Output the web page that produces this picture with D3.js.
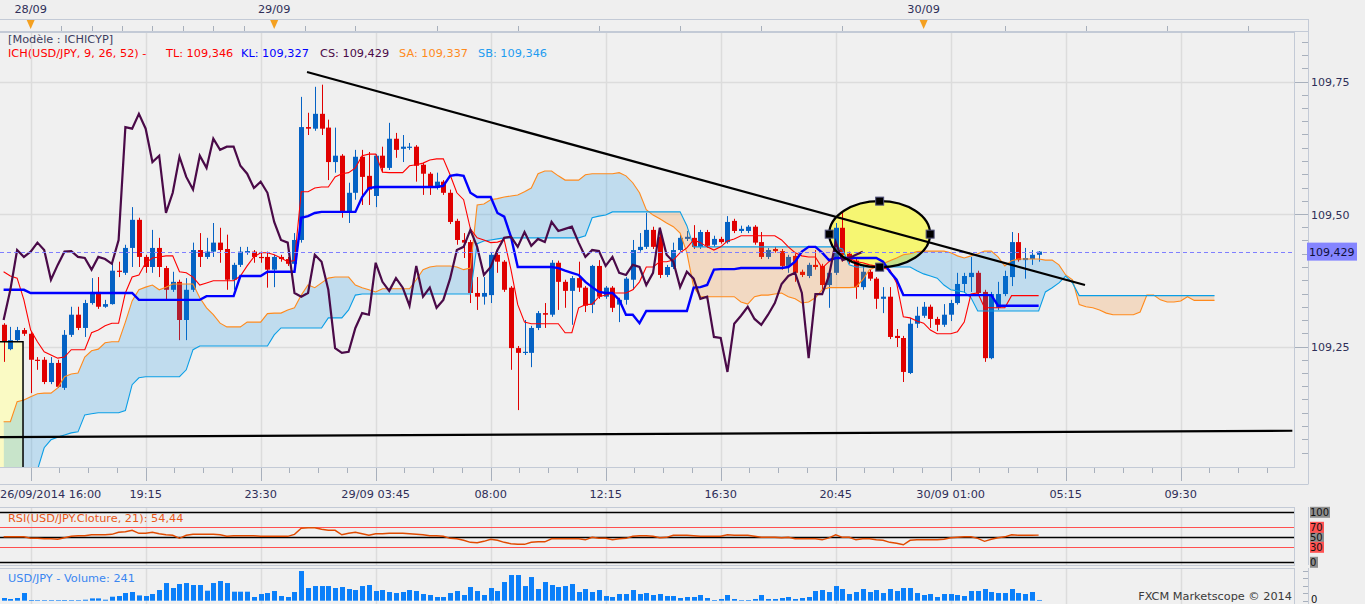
<!DOCTYPE html>
<html><head><meta charset="utf-8">
<script src="https://cdn.jsdelivr.net/npm/d3@7/dist/d3.min.js"></script>
<style>
body{margin:0;background:#efefef;overflow:hidden}
svg{display:block}
text{font-family:"DejaVu Sans",sans-serif;font-size:11.3px}
</style></head><body>
<svg id="c" width="1365" height="604"></svg>
<script>
// ---------- DATA (USD/JPY 15 min) ----------
const opens=[109.291,109.245,109.262,109.281,109.274,109.225,109.225,109.183,109.219,109.172,
109.272,109.310,109.285,109.332,109.353,109.325,109.330,109.393,109.389,109.436,
109.489,109.419,109.400,109.436,109.398,109.357,109.372,109.300,109.357,109.432,
109.419,109.429,109.446,109.434,109.376,109.404,109.427,109.429,109.419,109.419,
109.395,109.419,109.415,109.406,109.451,109.664,109.661,109.689,109.663,109.598,
109.610,109.502,109.540,109.608,109.572,109.534,109.610,109.587,109.642,109.623,
109.625,109.627,109.593,109.576,109.549,109.561,109.540,109.487,109.451,109.447,
109.351,109.344,109.347,109.423,109.410,109.361,109.247,109.238,109.238,109.285,
109.313,109.310,109.408,109.372,109.355,109.379,109.361,109.329,109.402,109.344,
109.361,109.329,109.338,109.376,109.432,109.438,109.470,109.457,109.385,109.400,
109.432,109.453,109.455,109.438,109.466,109.442,109.453,109.447,109.487,109.468,
109.468,109.476,109.447,109.419,109.434,109.430,109.402,109.421,109.391,109.383,
109.404,109.402,109.366,109.389,109.474,109.425,109.412,109.362,109.391,109.378,
109.340,109.344,109.270,109.266,109.200,109.293,109.308,109.325,109.302,109.291,
109.310,109.332,109.368,109.381,109.389,109.353,109.228,109.323,109.349,109.381,
109.447,109.413,109.415,109.423];
const highs=[109.294,109.287,109.287,109.285,109.277,109.230,109.230,109.230,109.225,109.281,
109.325,109.325,109.338,109.379,109.381,109.338,109.410,109.410,109.442,109.513,
109.493,109.423,109.470,109.455,109.402,109.391,109.376,109.379,109.446,109.464,
109.455,109.483,109.474,109.461,109.408,109.438,109.438,109.432,109.429,109.429,
109.423,109.423,109.419,109.464,109.721,109.691,109.740,109.744,109.678,109.663,
109.613,109.559,109.621,109.621,109.617,109.613,109.627,109.672,109.653,109.649,
109.634,109.630,109.596,109.579,109.578,109.564,109.546,109.491,109.464,109.451,
109.381,109.381,109.427,109.427,109.413,109.364,109.251,109.300,109.289,109.317,
109.332,109.413,109.412,109.376,109.383,109.410,109.364,109.404,109.413,109.364,
109.364,109.342,109.381,109.451,109.464,109.502,109.476,109.474,109.404,109.446,
109.461,109.468,109.479,109.470,109.470,109.459,109.457,109.496,109.491,109.478,
109.479,109.479,109.466,109.436,109.438,109.434,109.423,109.425,109.395,109.408,
109.432,109.406,109.393,109.483,109.502,109.429,109.415,109.402,109.395,109.381,
109.362,109.362,109.283,109.270,109.304,109.325,109.334,109.329,109.306,109.330,
109.338,109.389,109.389,109.419,109.393,109.357,109.353,109.372,109.393,109.466,
109.464,109.436,109.432,109.430];
const lows=[109.221,109.243,109.259,109.270,109.162,109.206,109.179,109.179,109.172,109.168,
109.268,109.281,109.268,109.329,109.321,109.323,109.329,109.381,109.385,109.400,
109.400,109.389,109.389,109.381,109.338,109.353,109.262,109.262,109.353,109.400,
109.415,109.419,109.408,109.357,109.357,109.400,109.423,109.408,109.408,109.361,
109.362,109.410,109.402,109.402,109.446,109.649,109.657,109.649,109.564,109.578,
109.493,109.483,109.527,109.517,109.517,109.513,109.579,109.583,109.606,109.598,
109.621,109.561,109.536,109.536,109.546,109.536,109.481,109.442,109.417,109.332,
109.319,109.329,109.332,109.389,109.353,109.206,109.130,109.234,109.211,109.281,
109.285,109.306,109.319,109.323,109.291,109.353,109.315,109.313,109.340,109.340,
109.315,109.296,109.329,109.357,109.429,109.434,109.434,109.379,109.381,109.396,
109.429,109.449,109.434,109.434,109.436,109.438,109.444,109.444,109.464,109.464,
109.464,109.442,109.415,109.415,109.427,109.395,109.389,109.372,109.381,109.379,
109.395,109.357,109.323,109.385,109.410,109.406,109.340,109.357,109.374,109.321,
109.313,109.264,109.249,109.183,109.198,109.285,109.304,109.285,109.279,109.287,
109.298,109.329,109.351,109.353,109.347,109.221,109.226,109.319,109.345,109.364,
109.410,109.378,109.404,109.410];
const closes=[109.259,109.262,109.281,109.274,109.225,109.223,109.183,109.219,109.174,109.272,
109.310,109.285,109.332,109.353,109.325,109.330,109.393,109.391,109.436,109.489,
109.419,109.400,109.436,109.400,109.357,109.372,109.300,109.357,109.432,109.419,
109.429,109.446,109.432,109.376,109.404,109.429,109.430,109.419,109.417,109.395,
109.419,109.415,109.406,109.451,109.664,109.661,109.689,109.661,109.598,109.610,
109.502,109.540,109.608,109.570,109.546,109.610,109.587,109.642,109.621,109.627,
109.627,109.591,109.576,109.549,109.561,109.540,109.485,109.451,109.446,109.351,
109.344,109.351,109.423,109.410,109.357,109.247,109.238,109.240,109.285,109.313,
109.310,109.408,109.372,109.355,109.379,109.361,109.327,109.402,109.344,109.361,
109.323,109.338,109.378,109.432,109.438,109.470,109.438,109.385,109.400,109.432,
109.455,109.457,109.438,109.466,109.440,109.453,109.447,109.485,109.468,109.472,
109.476,109.446,109.419,109.432,109.430,109.402,109.419,109.389,109.385,109.404,
109.400,109.366,109.389,109.474,109.423,109.410,109.362,109.391,109.378,109.340,
109.344,109.268,109.266,109.202,109.293,109.308,109.325,109.302,109.291,109.310,
109.332,109.368,109.383,109.389,109.351,109.228,109.349,109.349,109.383,109.447,
109.413,109.417,109.423,109.429];
const tenkan=[109.391,109.383,109.379,109.338,109.281,109.259,109.240,109.234,109.228,109.230,
109.244,109.244,109.244,109.276,109.281,109.289,109.294,109.294,109.351,109.381,
109.385,109.408,109.417,109.419,109.421,109.421,109.391,109.389,109.381,109.366,
109.370,109.374,109.374,109.374,109.374,109.383,109.402,109.419,109.427,109.427,
109.423,109.417,109.410,109.412,109.542,109.542,109.549,109.551,109.551,109.570,
109.576,109.578,109.587,109.610,109.613,109.613,109.579,109.578,109.578,109.578,
109.591,109.593,109.596,109.602,109.604,109.604,109.574,109.540,109.527,109.472,
109.455,109.451,109.446,109.447,109.451,109.395,109.329,109.296,109.293,109.293,
109.293,109.293,109.293,109.276,109.276,109.323,109.329,109.330,109.344,109.347,
109.351,109.351,109.351,109.357,109.372,109.400,109.400,109.410,109.410,109.413,
109.427,109.436,109.451,109.446,109.438,109.432,109.438,109.449,109.453,109.459,
109.459,109.459,109.459,109.459,109.459,109.451,109.438,109.427,109.421,109.419,
109.419,109.398,109.410,109.417,109.417,109.417,109.410,109.408,109.404,109.402,
109.398,109.395,109.370,109.306,109.304,109.298,109.294,109.281,109.274,109.274,
109.274,109.278,109.296,109.349,109.351,109.323,109.323,109.323,109.323,109.346,
109.346,109.346,109.346,109.346];
const kijun=[109.357,109.357,109.357,109.357,109.351,109.351,109.351,109.351,109.351,109.351,
109.351,109.351,109.351,109.351,109.351,109.351,109.351,109.351,109.351,109.351,
109.338,109.338,109.338,109.338,109.338,109.338,109.338,109.338,109.338,109.338,
109.345,109.345,109.345,109.345,109.345,109.383,109.383,109.383,109.383,109.391,
109.391,109.391,109.391,109.391,109.493,109.496,109.502,109.504,109.504,109.504,
109.504,109.504,109.504,109.532,109.549,109.551,109.551,109.551,109.551,109.551,
109.551,109.551,109.551,109.551,109.551,109.553,109.572,109.574,109.572,109.540,
109.532,109.532,109.532,109.502,109.495,109.457,109.400,109.400,109.400,109.400,
109.400,109.400,109.398,109.393,109.389,109.385,109.372,109.362,109.353,109.351,
109.351,109.338,109.310,109.310,109.294,109.317,109.317,109.317,109.317,109.317,
109.317,109.317,109.361,109.362,109.366,109.395,109.396,109.396,109.396,109.398,
109.398,109.398,109.398,109.398,109.398,109.398,109.400,109.410,109.429,109.438,
109.438,109.427,109.413,109.417,109.417,109.417,109.417,109.417,109.417,109.417,
109.410,109.391,109.376,109.347,109.347,109.347,109.347,109.347,109.347,109.347,
109.347,109.347,109.347,109.347,109.347,109.347,109.347,109.327,109.327,109.327,
109.327,109.327,109.327,109.327];
const senkouA=[109.108,109.108,109.146,109.149,109.155,109.161,109.162,109.162,109.172,109.193,
109.198,109.200,109.230,109.242,109.245,109.257,109.259,109.259,109.296,109.336,
109.357,109.362,109.366,109.357,109.362,109.368,109.368,109.368,109.368,109.342,
109.323,109.310,109.294,109.287,109.287,109.287,109.296,109.296,109.296,109.312,
109.313,109.313,109.319,109.323,109.347,109.366,109.361,109.370,109.379,109.381,
109.381,109.381,109.366,109.361,109.357,109.353,109.359,109.359,109.359,109.359,
109.359,109.376,109.395,109.400,109.402,109.402,109.402,109.400,109.395,109.398,
109.517,109.519,109.527,109.529,109.532,109.534,109.536,109.542,109.549,109.576,
109.581,109.581,109.572,109.564,109.564,109.564,109.574,109.576,109.576,109.576,
109.576,109.578,109.572,109.559,109.540,109.508,109.498,109.491,109.483,109.476,
109.464,109.427,109.362,109.344,109.344,109.344,109.344,109.344,109.344,109.334,
109.330,109.344,109.347,109.347,109.349,109.351,109.344,109.340,109.332,109.334,
109.342,109.357,109.361,109.361,109.361,109.361,109.362,109.376,109.395,109.400,
109.406,109.412,109.417,109.423,109.425,109.429,109.430,109.430,109.430,109.430,
109.427,109.421,109.417,109.421,109.425,109.430,109.430,109.419,109.402,109.412,
109.415,109.415,109.415,109.415,109.413,109.413,109.404,109.385,109.376,109.329,
109.325,109.323,109.319,109.313,109.310,109.310,109.310,109.310,109.315,109.347,
109.347,109.338,109.334,109.334,109.336,109.344,109.337,109.337,109.337,109.337];
const senkouB=[108.904,108.923,108.942,108.961,108.979,109.017,109.059,109.074,109.079,109.083,
109.087,109.089,109.121,109.123,109.125,109.125,109.125,109.125,109.129,109.178,
109.191,109.193,109.193,109.193,109.193,109.193,109.193,109.206,109.244,109.251,
109.251,109.251,109.251,109.251,109.251,109.251,109.251,109.251,109.251,109.251,
109.272,109.285,109.285,109.285,109.285,109.285,109.285,109.285,109.304,109.304,
109.304,109.319,109.347,109.349,109.349,109.349,109.349,109.349,109.349,109.349,
109.349,109.349,109.349,109.349,109.349,109.349,109.349,109.349,109.349,109.349,
109.444,109.449,109.451,109.453,109.455,109.455,109.455,109.455,109.455,109.455,
109.455,109.455,109.455,109.455,109.455,109.455,109.459,109.493,109.496,109.498,
109.504,109.504,109.504,109.504,109.504,109.504,109.504,109.504,109.504,109.504,
109.504,109.478,109.438,109.438,109.438,109.438,109.438,109.438,109.438,109.438,
109.438,109.438,109.438,109.438,109.438,109.438,109.438,109.438,109.438,109.438,
109.438,109.438,109.438,109.438,109.434,109.404,109.400,109.400,109.400,109.400,
109.400,109.400,109.400,109.400,109.400,109.393,109.387,109.383,109.379,109.366,
109.357,109.355,109.353,109.342,109.317,109.317,109.317,109.317,109.317,109.317,
109.317,109.317,109.317,109.317,109.353,109.361,109.370,109.383,109.370,109.346,
109.346,109.346,109.346,109.346,109.346,109.346,109.346,109.346,109.346,109.346,
109.346,109.346,109.346,109.346,109.346,109.346,109.346,109.346,109.346,109.346];
const rsi=[51,51,51,51,48,48,47,47,46,49,52,53,53,55,55,55,56,60,61,64,
58,58,60,57,55,54,48,54,56,56,56,56,55,52,53,53,53,53,52,52,
52,52,52,56,68,69,69,66,64,64,55,58,60,57,54,57,57,58,58,58,
57,56,55,53,53,52,48,47,44,40,39,42,46,44,40,37,36,36,40,41,
41,47,47,47,47,47,45,50,48,48,45,47,48,52,53,53,52,49,50,54,
54,54,53,52,52,52,52,55,54,54,54,52,50,50,50,49,50,47,47,47,
47,45,49,55,50,50,45,47,47,45,44,40,38,35,44,45,45,45,45,46,
49,50,51,51,48,42,46,49,51,55,54,54,54,54.44];
const volume=[900,570,900,2560,230,100,100,100,100,230,100,100,330,770,770,330,1330,1560,2560,2900,
1760,1560,2230,3560,5890,4230,5560,5890,5230,5230,3330,5890,6560,5890,3000,3000,3000,1230,2230,2560,
3230,1560,1230,2900,9890,4230,4890,4890,4890,4230,4560,3900,3560,4890,5230,3230,3560,2900,2560,2900,
3560,3230,2230,1900,1230,1230,2560,3230,1900,4560,3230,1900,4230,3230,6230,8560,8560,4890,7890,3900,
6230,5230,4560,4890,5560,2900,3900,2900,3560,1560,1230,2230,2230,3560,2230,2560,1900,2230,1560,1560,
900,1230,1230,1900,900,230,570,1900,570,100,230,570,1900,570,570,900,1230,570,900,1230,
3230,3560,2900,4890,3900,2230,2900,3900,2900,3560,2560,3900,3230,4230,4230,2560,1900,2230,1230,2230,
2230,1900,1560,3230,3230,3900,2900,2560,2560,3900,2560,2230,2900,241];
const chikouLag=26; // chikou span = close plotted 26 bars back
const timeLabelBars=[4,21,38,55,72,89,106,123,140,157,174];
const timeLabels=["26/09/2014 16:00","19:15","23:30","29/09 03:45","08:00","12:15","16:30","20:45","30/09 01:00","05:15","09:30"];
const dayMarkBars=[4,40,136];
const dayLabels=["28/09","29/09","30/09"];
const priceTicks=[109.25,109.5,109.75];
const rsiLevels=[100,70,50,30,0];
// drawn objects (bar index, price)
const trendLine=[[44.85,109.768],[159.85,109.366]];
const supportLine=[[-0.6,109.079],[190.5,109.091]];
const boxZone={i0:-3,i1:2.87,top:109.259,bottom:108.8};
const ellipseZone={ci:129.5,cp:109.462,ri:7.46,rp:0.0623};
const lastPrice=109.429;

// ---------- LAYOUT ----------
const svg=d3.select('#c');
const P={x0:0,x1:1294,y0:32,y1:467};
const RSI={y0:507,y1:565}, VOL={y0:568,y1:604};
const x=d3.scaleLinear().domain([0,191]).range([3.6,3.6+191*6.765]);
const y=d3.scaleLinear().domain([109.25,109.75]).range([346.5,81.5]);
const yr=d3.scaleLinear().domain([0,100]).range([562.3,512.3]);
const yv=d3.scaleLinear().domain([0,10000]).range([600.7,570.7]);
const fmt=v=>String(v).replace('.',',');
const gridC='#dcdcdc', frameC='#c3cad6', axisTxt='#2e2e58';

svg.append('rect').attr('width',1365).attr('height',604).attr('fill','#efefef');
const defs=svg.append('defs');
defs.append('clipPath').attr('id','plotClip').append('rect').attr('x',P.x0).attr('y',P.y0).attr('width',P.x1-P.x0).attr('height',P.y1-P.y0);

[[P.y0,P.y1],[RSI.y0,RSI.y1],[VOL.y0,VOL.y1]].forEach(([a,b])=>{
  svg.append('rect').attr('x',0).attr('y',a).attr('width',P.x1).attr('height',b-a).attr('fill','#f0f0f0');
});

const gridBars=d3.range(4,192,17);
[[P.y0,P.y1],[RSI.y0,RSI.y1],[VOL.y0,VOL.y1]].forEach(([a,b])=>{
  svg.append('g').selectAll('line').data(gridBars.filter(i=>x(i)<P.x1)).join('line')
    .attr('x1',i=>Math.round(x(i))+0.5).attr('x2',i=>Math.round(x(i))+0.5).attr('y1',a).attr('y2',b)
    .attr('stroke',gridC).attr('stroke-width',1.5);
});
svg.append('g').selectAll('line').data(priceTicks).join('line')
  .attr('x1',P.x0).attr('x2',P.x1).attr('y1',d=>Math.round(y(d))+0.5).attr('y2',d=>Math.round(y(d))+0.5)
  .attr('stroke',gridC).attr('stroke-width',1.5);

const main=svg.append('g').attr('clip-path','url(#plotClip)');
main.append('rect').attr('x',x(boxZone.i0)).attr('y',y(boxZone.top)).attr('width',x(boxZone.i1)-x(boxZone.i0))
  .attr('height',y(boxZone.bottom)-y(boxZone.top)).attr('fill','#fafac4');
main.append('ellipse').attr('cx',x(ellipseZone.ci)).attr('cy',y(ellipseZone.cp))
  .attr('rx',x(ellipseZone.ci+ellipseZone.ri)-x(ellipseZone.ci)).attr('ry',y(ellipseZone.cp-ellipseZone.rp)-y(ellipseZone.cp))
  .attr('fill','#f6f672');

// candles
const bars=d3.range(opens.length);
const up='#0562c4', dn='#e00000';
const cg=main.append('g');
cg.selectAll('line').data(bars).join('line')
  .attr('x1',i=>Math.round(x(i))+0.5).attr('x2',i=>Math.round(x(i))+0.5)
  .attr('y1',i=>y(highs[i])).attr('y2',i=>y(lows[i]))
  .attr('stroke',i=>closes[i]>=opens[i]?up:dn).attr('stroke-width',1);
cg.selectAll('rect').data(bars).join('rect')
  .attr('x',i=>Math.round(x(i))-2).attr('width',5)
  .attr('y',i=>y(Math.max(opens[i],closes[i])))
  .attr('height',i=>Math.max(1.2,Math.abs(y(opens[i])-y(closes[i]))))
  .attr('fill',i=>closes[i]>=opens[i]?up:dn);

// kumo cloud
const cIdx=d3.range(senkouA.length);
const below=arr=>d3.area().x(i=>x(i)).y0(i=>y(arr[i])).y1(P.y1+200)(cIdx);
const above=arr=>d3.area().x(i=>x(i)).y0(P.y0-200).y1(i=>y(arr[i]))(cIdx);
defs.append('clipPath').attr('id','aboveB').append('path').attr('d',above(senkouB));
defs.append('clipPath').attr('id','aboveA').append('path').attr('d',above(senkouA));
main.append('g').attr('clip-path','url(#aboveB)').append('path').attr('d',below(senkouA)).attr('fill','rgba(0,140,230,0.2)');
main.append('g').attr('clip-path','url(#aboveA)').append('path').attr('d',below(senkouB)).attr('fill','rgba(250,125,10,0.2)');

const lineOf=arr=>d3.line().x((d,i)=>x(i)).y(d=>y(d))(arr);
main.append('path').attr('d',lineOf(senkouA)).attr('fill','none').attr('stroke','#ff8a1c').attr('stroke-width',1.1);
main.append('path').attr('d',lineOf(senkouB)).attr('fill','none').attr('stroke','#0a9ee6').attr('stroke-width',1.1);
main.append('path').attr('d',lineOf(tenkan)).attr('fill','none').attr('stroke','#ff0000').attr('stroke-width',1.1);
main.append('path').attr('d',lineOf(kijun)).attr('fill','none').attr('stroke','#0000ff').attr('stroke-width',2.4);
const chikou=closes.slice(chikouLag);
main.append('path').attr('d',lineOf(chikou)).attr('fill','none').attr('stroke','#4a0a48').attr('stroke-width',2.2);

main.append('line').attr('x1',P.x0).attr('x2',P.x1).attr('y1',Math.round(y(lastPrice))+0.5).attr('y2',Math.round(y(lastPrice))+0.5)
  .attr('stroke','#7f7fff').attr('stroke-dasharray','4,3');

// drawn objects
const ln=d3.line().x(d=>x(d[0])).y(d=>y(d[1]));
main.append('path').attr('d',ln(trendLine)).attr('stroke','#000').attr('stroke-width',2.2).attr('fill','none');
main.append('path').attr('d',ln(supportLine)).attr('stroke','#000').attr('stroke-width',2.2).attr('fill','none');
main.append('path').attr('d',ln([[boxZone.i0,boxZone.top],[boxZone.i1,boxZone.top],[boxZone.i1,boxZone.bottom]]))
  .attr('stroke','#000').attr('stroke-width',1.5).attr('fill','none');
const ex=x(ellipseZone.ci), ey=y(ellipseZone.cp), erx=x(ellipseZone.ci+ellipseZone.ri)-ex, ery=y(ellipseZone.cp-ellipseZone.rp)-ey;
main.append('ellipse').attr('cx',ex).attr('cy',ey).attr('rx',erx).attr('ry',ery).attr('fill','none').attr('stroke','#000').attr('stroke-width',2.2);
main.selectAll('rect.h').data([[ex-erx,ey],[ex+erx,ey],[ex,ey-ery],[ex,ey+ery]]).join('rect').attr('class','h')
  .attr('x',d=>d[0]-4).attr('y',d=>d[1]-4).attr('width',8).attr('height',8).attr('fill','#000').attr('stroke','#50507a');

// frames
const frame=(x0,y0,x1,y1)=>svg.append('rect').attr('x',x0+0.5).attr('y',y0+0.5).attr('width',x1-x0).attr('height',y1-y0).attr('fill','none').attr('stroke',frameC);
frame(-2,P.y0,P.x1,P.y1);
frame(-2,RSI.y0,P.x1,RSI.y1);
frame(-2,VOL.y0,P.x1,VOL.y1+4);

// right price axis
svg.append('line').attr('x1',1308.5).attr('x2',1308.5).attr('y1',19).attr('y2',484).attr('stroke',frameC);
svg.append('line').attr('x1',1294).attr('x2',1308.5).attr('y1',484.5).attr('y2',484.5).attr('stroke',frameC);
const minor=d3.range(0,40).map(k=>109.0+k*0.025).filter(p=>y(p)>P.y0+2&&y(p)<P.y1-2);
svg.append('g').selectAll('line').data(minor).join('line')
  .attr('x1',d=>priceTicks.some(t=>Math.abs(t-d)<1e-6)?1295:1302).attr('x2',1308)
  .attr('y1',d=>Math.round(y(d))+0.5).attr('y2',d=>Math.round(y(d))+0.5).attr('stroke','#a8b0bc');
svg.append('g').selectAll('text').data(priceTicks).join('text')
  .attr('x',1311).attr('y',d=>y(d)+4.5).attr('fill',axisTxt).style('font-size','11px').text(d=>fmt(d.toFixed(2)));
svg.append('rect').attr('x',1307).attr('y',y(lastPrice)-9).attr('width',50).attr('height',18).attr('fill','#8585ff');
svg.append('text').attr('x',1309).attr('y',y(lastPrice)+4.5).attr('fill','#10103a').style('font-size','11px').text(fmt(lastPrice.toFixed(3)));

// bottom time axis
svg.append('line').attr('x1',0).attr('x2',1308).attr('y1',484.5).attr('y2',484.5).attr('stroke',frameC);
const tMinor=d3.range(0,46).map(k=>4+k*4.25).filter(i=>x(i)<P.x1);
svg.append('g').selectAll('line').data(tMinor).join('line')
  .attr('x1',i=>Math.round(x(i))+0.5).attr('x2',i=>Math.round(x(i))+0.5)
  .attr('y1',P.y1+1).attr('y2',i=>(Math.abs((i-4)%17)<1e-6)?P.y1+14:P.y1+6).attr('stroke','#a8b0bc');
svg.append('g').selectAll('text').data(timeLabelBars).join('text')
  .attr('x',(d,k)=>k===0?0:x(d)).attr('y',498).attr('text-anchor',(d,k)=>k===0?'start':'middle')
  .attr('fill',axisTxt).text((d,k)=>timeLabels[k]);

// top date bar
svg.append('rect').attr('x',-1).attr('y',19.5).attr('width',1309.5).attr('height',12).attr('fill','#f0f0f0').attr('stroke',frameC);
const topTicks=[8.5,13,17.5,22,26.5,31,35.5,44.5,52,64,76,88,100,112,124,148,160,172,184];
svg.append('g').selectAll('line').data(topTicks).join('line')
  .attr('x1',i=>Math.round(x(i))+0.5).attr('x2',i=>Math.round(x(i))+0.5).attr('y1',26).attr('y2',31).attr('stroke','#a8b0bc');
svg.append('g').selectAll('path').data(dayMarkBars).join('path')
  .attr('d',i=>{const c=x(i);return `M${c-4},20L${c+4},20L${c},29Z`;}).attr('fill','#f4a020');
svg.append('g').selectAll('text').data(dayMarkBars).join('text')
  .attr('x',i=>x(i)).attr('y',13).attr('text-anchor','middle').attr('fill',axisTxt).text((d,k)=>dayLabels[k]);

// legend
svg.append('text').attr('x',8).attr('y',43).attr('fill','#3c3c60').text('[Modèle : ICHICYP]');
const leg=[[8,'ICH(USD/JPY, 9, 26, 52) -','#ff0000'],[166,'TL: 109,346','#ff0000'],[241,'KL: 109,327','#0000ff'],
  [320,'CS: 109,429','#4a0a48'],[399,'SA: 109,337','#ff8a1c'],[478,'SB: 109,346','#1e9cf0']];
svg.append('g').selectAll('text').data(leg).join('text').attr('x',d=>d[0]).attr('y',57).attr('fill',d=>d[2]).text(d=>d[1]);

// RSI panel
svg.append('g').selectAll('line').data(rsiLevels).join('line')
  .attr('x1',0).attr('x2',P.x1).attr('y1',d=>Math.round(yr(d))+0.5).attr('y2',d=>Math.round(yr(d))+0.5)
  .attr('stroke',d=>(d===70||d===30)?'#ff5050':'#000').attr('stroke-width',d=>(d===70||d===30)?1:1.5);
svg.append('path').attr('d',d3.line().x((d,i)=>x(i)).y(d=>yr(d))(rsi))
  .attr('fill','none').attr('stroke','#e04a00').attr('stroke-width',1.4);
svg.append('text').attr('x',8).attr('y',522).attr('fill','#e8581a').text('RSI(USD/JPY.Cloture, 21): 54,44');
svg.append('line').attr('x1',1308.5).attr('x2',1308.5).attr('y1',RSI.y0).attr('y2',RSI.y1).attr('stroke',frameC);
const rsiLab=[100,0,50,70,30];
rsiLab.forEach(v=>{
  const red=(v===70||v===30);
  svg.append('rect').attr('x',1310).attr('y',yr(v)-5.5).attr('width',v===100?20:(v===0?8:14)).attr('height',11).attr('fill',red?'#ff5252':'#8e8e8e');
  svg.append('text').attr('x',1310).attr('y',yr(v)+4).attr('fill','#111').style('font-size','10px').text(v);
});

// volume panel
svg.append('g').selectAll('rect').data(bars).join('rect')
  .attr('x',i=>Math.round(x(i))-2).attr('width',5).attr('y',i=>yv(volume[i])).attr('height',i=>Math.max(0.6,yv(0)-yv(volume[i])))
  .attr('fill','#0a7ffa');
svg.append('text').attr('x',8).attr('y',582).attr('fill','#3a86f0').text('USD/JPY - Volume: 241');
svg.append('text').attr('x',1292).attr('y',600).attr('text-anchor','end').attr('fill','#3a3a3a').text('FXCM Marketscope © 2014');
svg.append('line').attr('x1',1308.5).attr('x2',1308.5).attr('y1',VOL.y0).attr('y2',604).attr('stroke',frameC);
svg.append('g').selectAll('line').data(d3.range(0,10001,2500)).join('line')
  .attr('x1',1303).attr('x2',1308).attr('y1',d=>Math.round(yv(d))+0.5).attr('y2',d=>Math.round(yv(d))+0.5).attr('stroke','#a8b0bc');
svg.append('text').attr('x',1311).attr('y',603).attr('fill','#111').style('font-size','10px').text('0');
</script></body></html>
